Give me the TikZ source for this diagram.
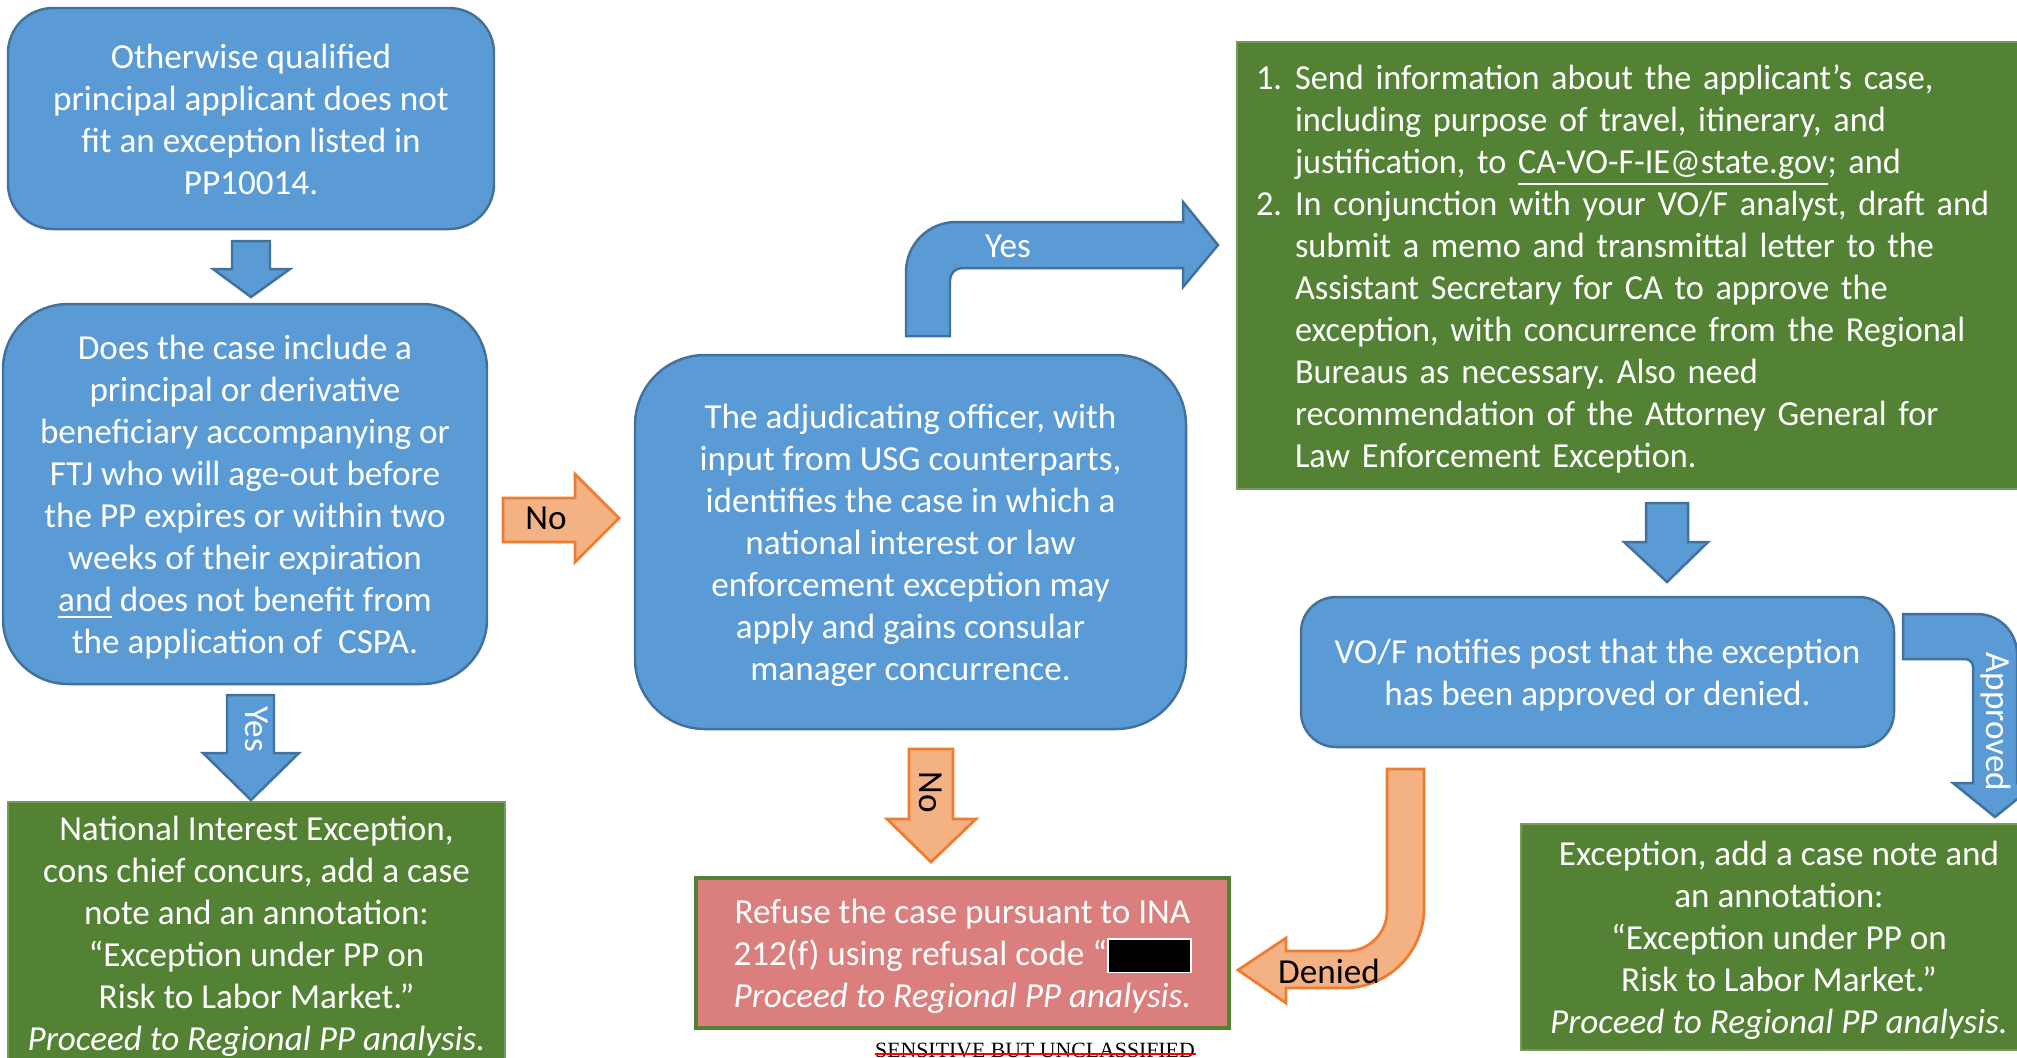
\documentclass[tikz,border=0pt]{standalone}
\usepackage{fontspec}
\setmainfont{Carlito}
\newfontfamily\narrowfont[FakeStretch=0.975]{Carlito}
\newfontfamily\timesfont{Liberation Serif}
\definecolor{bfill}{HTML}{5B9BD5}
\definecolor{bdraw}{HTML}{41719C}
\definecolor{ofill}{HTML}{F4B183}
\definecolor{odraw}{HTML}{ED7D31}
\definecolor{gfill}{HTML}{548235}
\definecolor{rfill}{HTML}{DA7E7E}
\frenchspacing
\newcommand\fs{\fontsize{10}{11.95}\selectfont}
\newcommand\fst{\rule{0pt}{9.7pt}}
\newcommand\lst{\rule[-2.5pt]{0pt}{0pt}}
\newcommand\numi[1]{\makebox[11.1pt][l]{#1}}
\newcommand\ind{\hspace*{11.1pt}}
\newcommand\redact{{\setlength\fboxsep{0pt}\setlength\fboxrule{0.5pt}\fcolorbox{white}{black}{\rule[-1.7pt]{0pt}{9.1pt}\hspace{23pt}}}}
\begin{document}
\begin{tikzpicture}[x=0.1mm,y=-0.1mm,
  bluebox/.style={draw=bdraw,fill=bfill,line width=0.7pt,rounded corners=#1,text=white,align=center,font=\fs,inner sep=0pt},
  bluebox/.default=4.5mm,
  greenbox/.style={draw=gfill!80!white,fill=gfill,line width=0.6pt,text=white,align=center,font=\fs,inner sep=0pt},
  redbox/.style={draw=gfill,fill=rfill,line width=0.9pt,text=white,align=center,font=\fs,inner sep=0pt},
  barrow/.style={draw=bdraw,fill=bfill,line width=0.7pt},
  oarrow/.style={draw=odraw,fill=ofill,line width=0.8pt},
  lbl/.style={font=\fs,inner sep=0pt}]
\path[use as bounding box] (0,0) rectangle (2017,1057);
\fill[white] (0,0) rectangle (2017,1057);
\clip (0,0) rectangle (2017,1057);

% boxes
\node[bluebox=4.5mm, minimum width=48.6mm, minimum height=22.1mm] (q1) at (251,118.5)
  {\fst Otherwise qualified\\principal applicant does not\\fit an exception listed in\\PP10014.\lst};
\node[bluebox=6.5mm, minimum width=48.4mm, minimum height=38mm] (q2) at (245,494)
  {\fst Does the case include a\\principal or derivative\\beneficiary accompanying or\\FTJ who will age-out before\\the PP expires or within two\\weeks of their expiration\\\underline{and} does not benefit from\\the application of\ \ CSPA.\lst};
\node[bluebox=7mm, minimum width=55.1mm, minimum height=37.4mm] (q3) at (910.5,542)
  {\fst The adjudicating officer, with\\input from USG counterparts,\\identifies the case in which a\\national interest or law\\enforcement exception may\\apply and gains consular\\manager concurrence.\lst};
\node[greenbox, minimum width=80mm, minimum height=44.7mm, text width=76.2mm, align=left, font=\narrowfont\fs] (act) at (1637,265.5)
  {\fst\numi{1.}Send information about the applicant’s case,\\
   \ind including purpose of travel, itinerary, and\\
   \ind justification, to \underline{CA-VO-F-IE@state.gov}; and\\
   \numi{2.}In conjunction with your VO/F analyst, draft and\\
   \ind submit a memo and transmittal letter to the\\
   \ind Assistant Secretary for CA to approve the\\
   \ind exception, with concurrence from the Regional\\
   \ind Bureaus as necessary. Also need\\
   \ind recommendation of the Attorney General for\\
   \ind Law Enforcement Exception.\lst};
\node[bluebox=3.5mm, minimum width=59.3mm, minimum height=15mm] (vof) at (1597.5,672)
  {\fst VO/F notifies post that the exception\\has been approved or denied.\lst};
\node[greenbox, minimum width=49.7mm, minimum height=26.2mm] (nie) at (256.5,933)
  {\fst National Interest Exception,\\cons chief concurs, add a case\\note and an annotation:\\“Exception under PP on\\Risk to Labor Market.”\\\textit{Proceed to Regional PP analysis.}\lst};
\node[greenbox, minimum width=51.6mm, minimum height=22.6mm] (exc) at (1779,937)
  {\fst Exception, add a case note and\\an annotation:\\“Exception under PP on\\Risk to Labor Market.”\\\textit{Proceed to Regional PP analysis.}\lst};
\node[redbox, minimum width=53.3mm, minimum height=15mm] (ref) at (962.5,953)
  {\fst Refuse the case pursuant to INA\\212(f) using refusal code “\redact\\\textit{Proceed to Regional PP analysis.}\lst};

% block arrows
\draw[barrow] (232,241) -- (270,241) -- (270,269) -- (290,269) -- (251,297) -- (213,269) -- (232,269) -- cycle;
\draw[oarrow] (503,498) -- (575,498) -- (575,474) -- (619,518) -- (575,562) -- (575,542) -- (503,542) -- cycle;
\node[lbl] (no1) at (546,518) {No};
\draw[barrow] (227,695) -- (274,695) -- (274,753) -- (299,753) -- (251,800) -- (203,753) -- (227,753) -- cycle;
\node[lbl,text=white,rotate=-90] (yes1) at (257,729) {Yes};
\draw[barrow] (906,336) -- (906,272) .. controls (906,244.4) and (928.4,222) .. (956,222) -- (1183,222) -- (1183,202) -- (1218,245) -- (1183,287) -- (1183,268) -- (962,268) .. controls (955.4,268) and (950,273.4) .. (950,280) -- (950,336) -- cycle;
\node[lbl,text=white] (yes2) at (1008,246) {Yes};
\draw[barrow] (1646,503) -- (1688,503) -- (1688,542) -- (1708,542) -- (1667,582) -- (1624,542) -- (1646,542) -- cycle;
\draw[barrow] (1903,614) -- (1977,614) .. controls (1999.1,614) and (2017,631.9) .. (2017,654) -- (2017,783) -- (2037,783) -- (1995,817) -- (1953,783) -- (1973,783) -- (1973,667) .. controls (1973,662.6) and (1969.4,659) .. (1965,659) -- (1903,659) -- cycle;
\node[lbl,text=white,rotate=-90] (appr) at (1996,722) {Approved};
\draw[oarrow] (909,749) -- (953,749) -- (953,819) -- (976,819) -- (931,862) -- (887,819) -- (909,819) -- cycle;
\node[lbl,rotate=-90] (no2) at (931,792) {No};
\draw[oarrow] (1387,769) -- (1424,769) -- (1424,908) .. controls (1424,952.2) and (1388.2,988) .. (1344,988) -- (1286,988) -- (1286,1003) -- (1238,970) -- (1286,938) -- (1286,951) -- (1347,951) .. controls (1369.1,951) and (1387,933.1) .. (1387,911) -- cycle;
\node[lbl] (den) at (1329,971) {Denied};

% footer
\node[font=\timesfont\fontsize{6.2}{7}\selectfont, anchor=base, inner sep=0pt] (sbu) at (1035,1057.5) {SENSITIVE BUT UNCLASSIFIED};
\draw[red, line width=0.4pt] ([yshift=1pt]sbu.base west) -- ([yshift=1pt]sbu.base east);
\end{tikzpicture}
\end{document}
